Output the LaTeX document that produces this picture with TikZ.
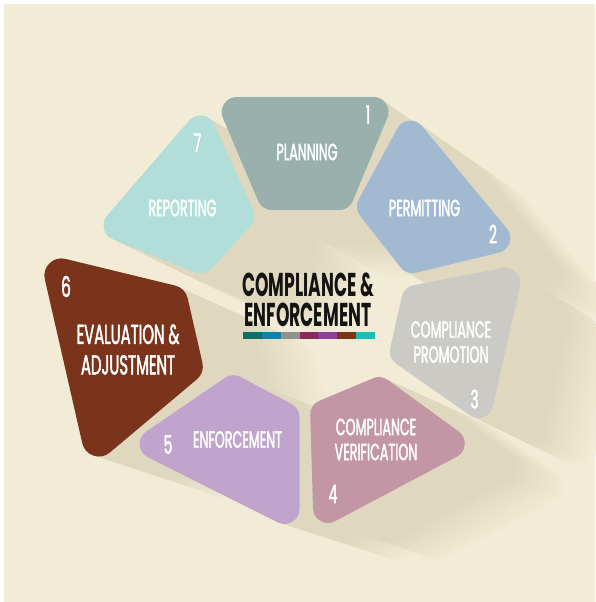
\documentclass[tikz,border=0pt]{standalone}
\usepackage{fontspec}
\usetikzlibrary{calc}
\newfontfamily\lblfont{Poppins}[FakeStretch=0.54,FakeBold=1.6]
\newfontfamily\ttlfont{Poppins}[FakeStretch=0.52]
\definecolor{bgc}{HTML}{F2ECD6}
\definecolor{shadowc}{HTML}{DFD8BF}
\definecolor{ttlc}{HTML}{141414}
\definecolor{cPlanC}{HTML}{9AB0AD}
\definecolor{cPermC}{HTML}{A1BAD2}
\definecolor{cPromC}{HTML}{CBCAC5}
\definecolor{cVerC}{HTML}{C296A5}
\definecolor{cEnfC}{HTML}{C1A4CE}
\definecolor{cEvalC}{HTML}{7A341C}
\definecolor{cRepC}{HTML}{B1DED9}
\definecolor{barA}{HTML}{0E6F67}
\definecolor{barB}{HTML}{1280A8}
\definecolor{barC}{HTML}{92918A}
\definecolor{barD}{HTML}{8A2A5B}
\definecolor{barE}{HTML}{8B409B}
\definecolor{barF}{HTML}{7B3516}
\definecolor{barG}{HTML}{17BFAF}
% rounded quadrilateral: color, radius, 2*radius, four vertices (visually clockwise)
\newcommand\rquad[7]{%
  \coordinate (v1) at #4; \coordinate (v2) at #5; \coordinate (v3) at #6; \coordinate (v4) at #7;
  \coordinate (a12) at ($(v1)!#2!-90:(v2)$); \coordinate (b12) at ($(v2)!#2!90:(v1)$);
  \coordinate (a23) at ($(v2)!#2!-90:(v3)$); \coordinate (b23) at ($(v3)!#2!90:(v2)$);
  \coordinate (a34) at ($(v3)!#2!-90:(v4)$); \coordinate (b34) at ($(v4)!#2!90:(v3)$);
  \coordinate (a41) at ($(v4)!#2!-90:(v1)$); \coordinate (b41) at ($(v1)!#2!90:(v4)$);
  \coordinate (w1) at (intersection of a41--b41 and a12--b12);
  \coordinate (w2) at (intersection of a12--b12 and a23--b23);
  \coordinate (w3) at (intersection of a23--b23 and a34--b34);
  \coordinate (w4) at (intersection of a34--b34 and a41--b41);
  \path[fill=#1, draw=#1, line width=#3, line join=round] (w1)--(w2)--(w3)--(w4)--cycle;
}
\newcommand\allshapes{%
  \rquad{cPlan}{15pt}{30pt}{(214,97)}{(396,97)}{(349,210)}{(262,210)}%
  \rquad{cPerm}{15pt}{30pt}{(408,109)}{(522,247)}{(406.5,275)}{(354,208)}%
  \rquad{cProm}{15pt}{30pt}{(404,287)}{(525,263.5)}{(488,428)}{(388,358)}%
  \rquad{cVer}{15pt}{30pt}{(381,375)}{(478,445.5)}{(313.7,532.4)}{(309.9,404.7)}%
  \rquad{cEnf}{15pt}{30pt}{(232.5,372.7)}{(299.5,408.2)}{(299.5,533.1)}{(125.1,445.9)}%
  \rquad{cEval}{17pt}{34pt}{(38.7,252.4)}{(185.3,288)}{(204.7,372.7)}{(88.5,470.4)}%
  \rquad{cRep}{15pt}{30pt}{(204.3,102.9)}{(257.3,218.8)}{(204.2,276.3)}{(93.5,231.4)}%
}
\tikzset{
  lbl/.style={inner sep=0pt, text=white, align=center, font=\lblfont\fontsize{23.5}{25}\selectfont},
  biglbl/.style={inner sep=0pt, text=white, align=center, font=\lblfont\fontsize{27.5}{30.5}\selectfont},
  num/.style={inner sep=0pt, text=white, font=\lblfont\fontsize{25.5}{25}\selectfont},
  bignum/.style={inner sep=0pt, text=white, font=\lblfont\fontsize{28.5}{28}\selectfont},
  ttl/.style={inner sep=0pt, text=ttlc, align=center, font=\ttlfont\bfseries\fontsize{33}{30}\selectfont}
}
\begin{document}
\begin{tikzpicture}[x=1pt,y=-1pt]
\useasboundingbox (0,0) rectangle (595,602);
\fill[white] (0,0) rectangle (595,602);
\fill[bgc] (4,4) rectangle (595,602);
% long shadows
\foreach \k in {20,19,...,1}{%
  \pgfmathsetmacro\shf{1-0.1*\k/20}%
  \pgfmathsetmacro\shpc{(\k/20<0.5) ? 100 : 100*(1-\k/20)/0.5}%
  \colorlet{shc}{shadowc!\shpc!bgc}%
  \colorlet{cPlan}{shc}\colorlet{cPerm}{shc}\colorlet{cProm}{shc}\colorlet{cVer}{shc}%
  \colorlet{cEnf}{shc}\colorlet{cEval}{shc}\colorlet{cRep}{shc}%
  \begin{scope}[scale around={\shf:(1500,900)}]
    \allshapes
  \end{scope}
}
% segments
\colorlet{cPlan}{cPlanC}\colorlet{cPerm}{cPermC}\colorlet{cProm}{cPromC}\colorlet{cVer}{cVerC}%
\colorlet{cEnf}{cEnfC}\colorlet{cEval}{cEvalC}\colorlet{cRep}{cRepC}%
\allshapes
% labels
\node[lbl] (t1) at (307,152) {PLANNING};
\node[num] (n1) at (368,114.5) {1};
\node[lbl] (t2) at (424.5,208) {PERMITTING};
\node[num] (n2) at (493,234) {2};
\node[lbl] (t3) at (451,342) {COMPLIANCE\\PROMOTION};
\node[num] (n3) at (474.5,399) {3};
\node[lbl] (t4) at (376,439.5) {COMPLIANCE\\VERIFICATION};
\node[num] (n4) at (333,494) {4};
\node[lbl] (t5) at (237.5,439.5) {ENFORCEMENT};
\node[num] (n5) at (168,444.5) {5};
\node[biglbl] (t6) at (128,349.5) {EVALUATION \&\\ADJUSTMENT};
\node[bignum] (n6) at (66,286.5) {6};
\node[lbl] (t7) at (182.5,208) {REPORTING};
\node[num] (n7) at (197.5,142.5) {7};
% title
\node[ttl] (title) at (308,300) {COMPLIANCE \&\\ENFORCEMENT};
\foreach \c [count=\i from 0] in {barA,barB,barC,barD,barE,barF,barG}{%
  \fill[\c] ({243+\i*18.857},332) rectangle ({243+(\i+1)*18.857},339);
}
\end{tikzpicture}
\end{document}
